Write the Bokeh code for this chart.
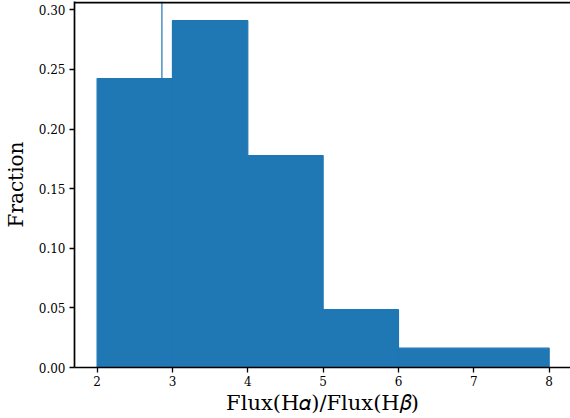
from bokeh.plotting import figure
from bokeh.models import FixedTicker, PrintfTickFormatter, Span, Range1d
from bokeh.embed import file_html
from bokeh.resources import INLINE

bin_left = [2, 3, 4, 5, 6]
bin_right = [3, 4, 5, 6, 8]
fraction = [0.2424, 0.2909, 0.1778, 0.0485, 0.0162]
balmer_line = 2.86
x_ticks = [2, 3, 4, 5, 6, 7, 8]
y_ticks = [0.0, 0.05, 0.10, 0.15, 0.20, 0.25, 0.30]

y_top = 0.307
spine_y = 0.3062
p = figure(width=570, height=418, output_backend="svg", toolbar_location=None,
           x_range=Range1d(1.7, 8.283), y_range=Range1d(0, y_top),
           min_border_left=73, min_border_right=0, min_border_top=1, min_border_bottom=51)
p.outline_line_color = None
p.grid.visible = False
p.background_fill_color = "white"
p.border_fill_color = "white"

p.segment(x0=[balmer_line], y0=[0], x1=[balmer_line], y1=[y_top], line_color="#1f77b4", line_width=1.2)
p.quad(left=bin_left, right=bin_right, bottom=0, top=fraction, fill_color="#1f77b4",
       line_color="#1f77b4", line_width=1.2)
p.add_layout(Span(location=spine_y, dimension="width", line_color="black", line_width=2))

for ax in (p.xaxis, p.yaxis):
    ax.axis_line_width = 1.7
    ax.axis_line_color = "black"
    ax.major_tick_line_width = 1.3
    ax.major_tick_out = 5
    ax.major_tick_in = 0
    ax.minor_tick_line_color = None
    ax.major_label_text_font = "DejaVu Serif"
    ax.major_label_text_font_size = "12px"
    ax.major_label_text_color = "black"
    ax.axis_label_text_font = "DejaVu Serif"
    ax.axis_label_text_font_style = "normal"
    ax.axis_label_text_color = "black"

p.xaxis.axis_label_text_font_size = "21px"
p.yaxis.axis_label_text_font_size = "20px"
p.xaxis.ticker = FixedTicker(ticks=x_ticks)
p.yaxis.ticker = FixedTicker(ticks=y_ticks)
p.yaxis.formatter = PrintfTickFormatter(format="%.2f")
p.xaxis.axis_label = "Flux(H\U0001D6FC)/Flux(H\U0001D6FD)"
p.yaxis.axis_label = "Fraction"
p.xaxis.axis_label_standoff = 2
p.yaxis.axis_label_standoff = 8
p.xaxis.major_label_standoff = 3
p.yaxis.major_label_standoff = 4

open("out.html", "w").write(file_html(p, INLINE))
